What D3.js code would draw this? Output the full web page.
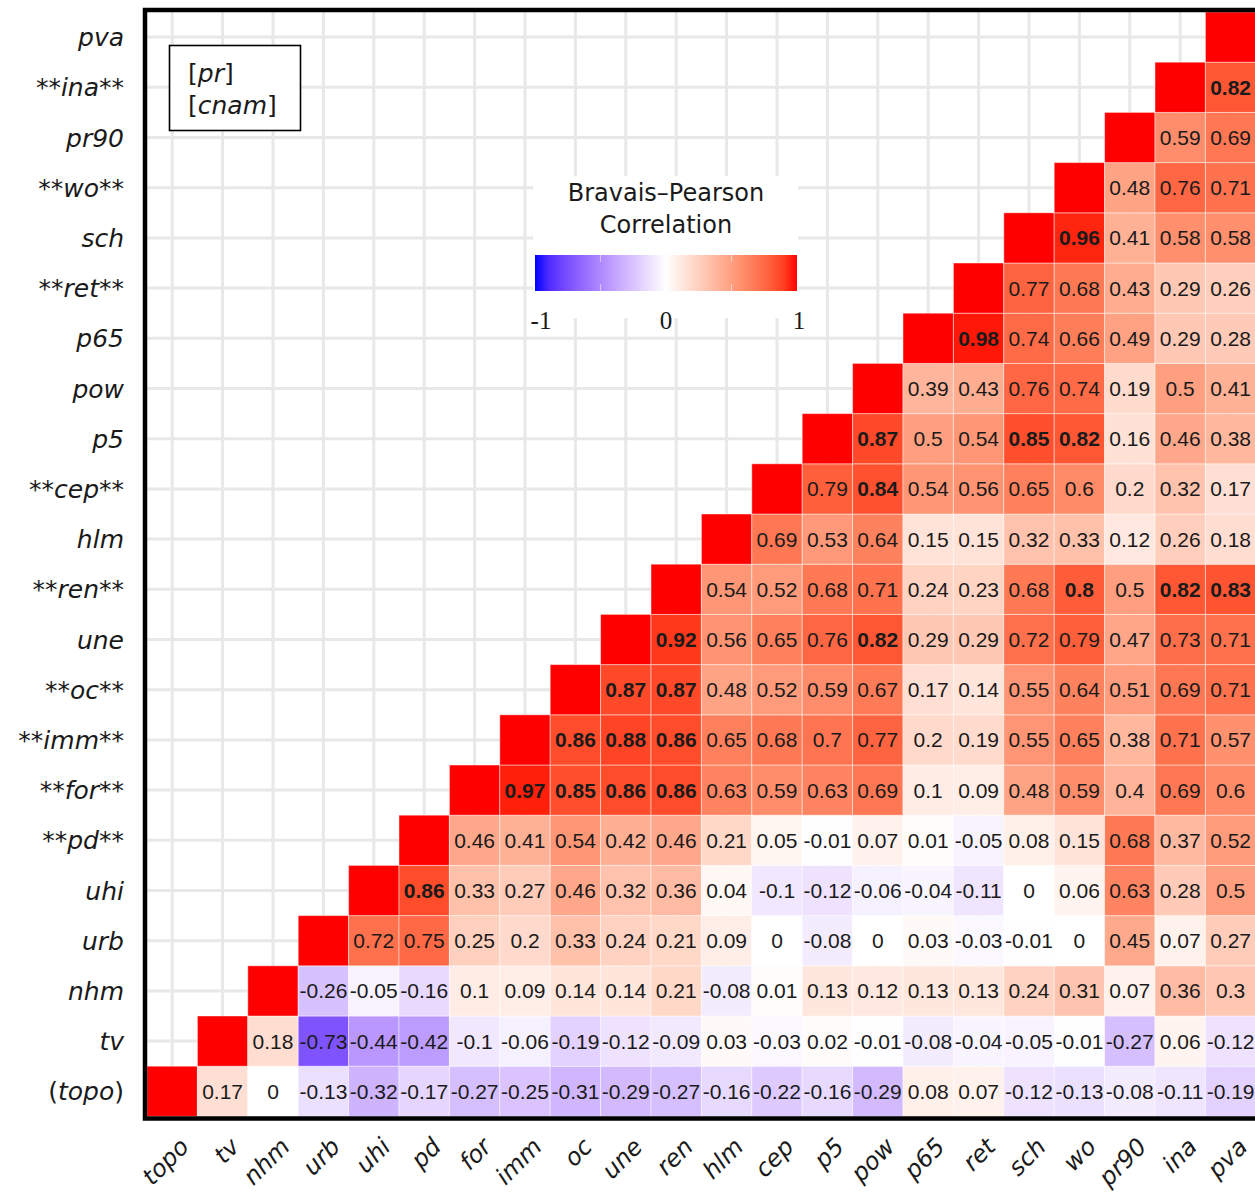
<!DOCTYPE html>
<html>
<head>
<meta charset="utf-8">
<script src="https://cdn.jsdelivr.net/npm/d3@7"></script>
<style>
  html, body { margin: 0; padding: 0; background: #ffffff; }
  svg { display: block; }
</style>
</head>
<body>
<svg id="chart" width="1255" height="1192"></svg>
<script>
// Variable order (bottom-to-top on the y axis, left-to-right on the x axis)
const variables = ["topo","tv","nhm","urb","uhi","pd","for","imm","oc","une","ren",
                   "hlm","cep","p5","pow","p65","ret","sch","wo","pr90","ina","pva"];

// Variables flagged with ** on the y axis, and the one shown in parentheses
const flagged = ["pd","for","imm","oc","ren","cep","ret","wo","ina"];
const bracketed = ["topo"];

// Correlations of each variable with every variable that comes after it
const corrTopo = [0.17, 0, -0.13, -0.32, -0.17, -0.27, -0.25, -0.31, -0.29, -0.27, -0.16, -0.22, -0.16, -0.29, 0.08, 0.07, -0.12, -0.13, -0.08, -0.11, -0.19];
const corrTv   = [0.18, -0.73, -0.44, -0.42, -0.1, -0.06, -0.19, -0.12, -0.09, 0.03, -0.03, 0.02, -0.01, -0.08, -0.04, -0.05, -0.01, -0.27, 0.06, -0.12];
const corrNhm  = [-0.26, -0.05, -0.16, 0.1, 0.09, 0.14, 0.14, 0.21, -0.08, 0.01, 0.13, 0.12, 0.13, 0.13, 0.24, 0.31, 0.07, 0.36, 0.3];
const corrUrb  = [0.72, 0.75, 0.25, 0.2, 0.33, 0.24, 0.21, 0.09, 0, -0.08, 0, 0.03, -0.03, -0.01, 0, 0.45, 0.07, 0.27];
const corrUhi  = [0.86, 0.33, 0.27, 0.46, 0.32, 0.36, 0.04, -0.1, -0.12, -0.06, -0.04, -0.11, 0, 0.06, 0.63, 0.28, 0.5];
const corrPd   = [0.46, 0.41, 0.54, 0.42, 0.46, 0.21, 0.05, -0.01, 0.07, 0.01, -0.05, 0.08, 0.15, 0.68, 0.37, 0.52];
const corrFor  = [0.97, 0.85, 0.86, 0.86, 0.63, 0.59, 0.63, 0.69, 0.1, 0.09, 0.48, 0.59, 0.4, 0.69, 0.6];
const corrImm  = [0.86, 0.88, 0.86, 0.65, 0.68, 0.7, 0.77, 0.2, 0.19, 0.55, 0.65, 0.38, 0.71, 0.57];
const corrOc   = [0.87, 0.87, 0.48, 0.52, 0.59, 0.67, 0.17, 0.14, 0.55, 0.64, 0.51, 0.69, 0.71];
const corrUne  = [0.92, 0.56, 0.65, 0.76, 0.82, 0.29, 0.29, 0.72, 0.79, 0.47, 0.73, 0.71];
const corrRen  = [0.54, 0.52, 0.68, 0.71, 0.24, 0.23, 0.68, 0.8, 0.5, 0.82, 0.83];
const corrHlm  = [0.69, 0.53, 0.64, 0.15, 0.15, 0.32, 0.33, 0.12, 0.26, 0.18];
const corrCep  = [0.79, 0.84, 0.54, 0.56, 0.65, 0.6, 0.2, 0.32, 0.17];
const corrP5   = [0.87, 0.5, 0.54, 0.85, 0.82, 0.16, 0.46, 0.38];
const corrPow  = [0.39, 0.43, 0.76, 0.74, 0.19, 0.5, 0.41];
const corrP65  = [0.98, 0.74, 0.66, 0.49, 0.29, 0.28];
const corrRet  = [0.77, 0.68, 0.43, 0.29, 0.26];
const corrSch  = [0.96, 0.41, 0.58, 0.58];
const corrWo   = [0.48, 0.76, 0.71];
const corrPr90 = [0.59, 0.69];
const corrIna  = [0.82];
const corrPva  = [];

const legendTicks = [-1, 0, 1];

const rows = [corrTopo, corrTv, corrNhm, corrUrb, corrUhi, corrPd, corrFor, corrImm, corrOc,
              corrUne, corrRen, corrHlm, corrCep, corrP5, corrPow, corrP65, corrRet, corrSch,
              corrWo, corrPr90, corrIna, corrPva];

// Long-format cell list: diagonal (r = 1, no label) plus the upper triangle
const cells = [];
variables.forEach((rv, i) => {
  cells.push({ row: rv, col: rv, r: 1, diag: true });
  rows[i].forEach((val, k) => {
    cells.push({ row: rv, col: variables[i + 1 + k], r: val, diag: false });
  });
});

const svg = d3.select("#chart");

const panel = { left: 147, top: 12, right: 1255.8, bottom: 1116.4 };

const x = d3.scaleBand().domain(variables).range([panel.left, panel.right]);
const y = d3.scaleBand().domain(variables).range([panel.bottom, panel.top]);

const color = d3.scaleLinear()
  .domain([-1, 0, 1])
  .range(["#0000ff", "#ffffff", "#ff0000"])
  .interpolate(d3.interpolateLab);

// Panel background and major grid lines through category centres
svg.append("rect")
  .attr("x", panel.left).attr("y", panel.top)
  .attr("width", panel.right - panel.left).attr("height", panel.bottom - panel.top)
  .attr("fill", "#ffffff");

const grid = svg.append("g").attr("stroke", "#e8e8e8").attr("stroke-width", 3);
variables.forEach(v => {
  const cx = x(v) + x.bandwidth() / 2;
  grid.append("line").attr("x1", cx).attr("x2", cx).attr("y1", panel.top).attr("y2", panel.bottom);
  const cy = y(v) + y.bandwidth() / 2;
  grid.append("line").attr("y1", cy).attr("y2", cy).attr("x1", panel.left).attr("x2", panel.right);
});

// Tiles
svg.append("g").selectAll("rect")
  .data(cells)
  .join("rect")
  .attr("x", d => x(d.col))
  .attr("y", d => y(d.row))
  .attr("width", x.bandwidth())
  .attr("height", y.bandwidth())
  .attr("fill", d => color(d.r))
  .attr("stroke", "#ffffff")
  .attr("stroke-opacity", 0.45)
  .attr("stroke-width", 1);

// Coefficient labels
svg.append("g").selectAll("text")
  .data(cells.filter(d => !d.diag))
  .join("text")
  .attr("x", d => x(d.col) + x.bandwidth() / 2)
  .attr("y", d => y(d.row) + y.bandwidth() / 2)
  .attr("text-anchor", "middle")
  .attr("dominant-baseline", "central")
  .attr("font-family", "'Liberation Sans', Arial, sans-serif")
  .attr("font-size", 21)
  .attr("font-weight", d => Math.abs(d.r) >= 0.8 ? "bold" : "normal")
  .attr("fill", "#1a1a1a")
  .text(d => String(d.r));

// Panel frame
svg.append("rect")
  .attr("x", 145).attr("y", 10)
  .attr("width", 1114).attr("height", 1108.5)
  .attr("fill", "none")
  .attr("stroke", "#000000")
  .attr("stroke-width", 4.5);

// Y axis labels
const labelFont = "'DejaVu Sans', Verdana, sans-serif";
const yLab = svg.append("g")
  .attr("font-family", labelFont)
  .attr("font-size", 25)
  .attr("fill", "#1a1a1a");

variables.forEach(v => {
  const t = yLab.append("text")
    .attr("x", 124)
    .attr("y", y(v) + y.bandwidth() / 2)
    .attr("text-anchor", "end")
    .attr("dominant-baseline", "central");
  if (flagged.includes(v)) {
    t.append("tspan").text("**");
    t.append("tspan").attr("font-style", "italic").text(v);
    t.append("tspan").text("**");
  } else if (bracketed.includes(v)) {
    t.append("tspan").text("(");
    t.append("tspan").attr("font-style", "italic").text(v);
    t.append("tspan").text(")");
  } else {
    t.append("tspan").attr("font-style", "italic").text(v);
  }
});

// X axis labels, rotated
svg.append("g")
  .attr("font-family", labelFont)
  .attr("font-size", 24)
  .attr("font-style", "italic")
  .attr("fill", "#1a1a1a")
  .selectAll("text")
  .data(variables)
  .join("text")
  .attr("text-anchor", "end")
  .attr("transform", d => `translate(${x(d) + x.bandwidth() / 2 + 6},${1136}) rotate(-45)`)
  .attr("dy", "0.72em")
  .text(d => d);

// Annotation box
const note = svg.append("g");
note.append("rect")
  .attr("x", 169.5).attr("y", 45.5)
  .attr("width", 131).attr("height", 85)
  .attr("fill", "#ffffff")
  .attr("stroke", "#000000")
  .attr("stroke-width", 1.6);
const noteText = note.append("g")
  .attr("font-family", labelFont)
  .attr("font-size", 25)
  .attr("fill", "#1a1a1a");
[["pr", 82], ["cnam", 114]].forEach(([s, by]) => {
  const t = noteText.append("text").attr("x", 188).attr("y", by);
  t.append("tspan").text("[");
  t.append("tspan").attr("font-style", "italic").text(s);
  t.append("tspan").text("]");
});

// Colour legend
const legend = { x0: 535, x1: 797, y0: 255, h: 36 };
const lg = svg.append("g");
lg.append("rect")
  .attr("x", 533).attr("y", 176)
  .attr("width", 265).attr("height", 142)
  .attr("fill", "#ffffff");

lg.append("text")
  .attr("x", 666).attr("y", 201)
  .attr("text-anchor", "middle")
  .attr("font-family", labelFont).attr("font-size", 24).attr("fill", "#1a1a1a")
  .text("Bravais–Pearson");
lg.append("text")
  .attr("x", 666).attr("y", 233)
  .attr("text-anchor", "middle")
  .attr("font-family", labelFont).attr("font-size", 24).attr("fill", "#1a1a1a")
  .text("Correlation");

const defs = svg.append("defs");
const grad = defs.append("linearGradient").attr("id", "corr-grad")
  .attr("x1", "0%").attr("x2", "100%").attr("y1", "0%").attr("y2", "0%");
d3.range(0, 1.0001, 0.05).forEach(t => {
  grad.append("stop")
    .attr("offset", `${t * 100}%`)
    .attr("stop-color", color(-1 + 2 * t));
});

const lx = d3.scaleLinear().domain([-1, 1]).range([legend.x0, legend.x1]);

lg.append("rect")
  .attr("x", legend.x0).attr("y", legend.y0)
  .attr("width", legend.x1 - legend.x0).attr("height", legend.h)
  .attr("fill", "url(#corr-grad)");

// faint tick marks inside the bar
[-0.5, 0, 0.5].forEach(v => {
  lg.append("line")
    .attr("x1", lx(v)).attr("x2", lx(v))
    .attr("y1", legend.y0).attr("y2", legend.y0 + 7)
    .attr("stroke", "#ffffff").attr("stroke-opacity", 0.5).attr("stroke-width", 1);
  lg.append("line")
    .attr("x1", lx(v)).attr("x2", lx(v))
    .attr("y1", legend.y0 + legend.h - 7).attr("y2", legend.y0 + legend.h)
    .attr("stroke", "#ffffff").attr("stroke-opacity", 0.5).attr("stroke-width", 1);
});

lg.selectAll("text.tick")
  .data(legendTicks)
  .join("text")
  .attr("class", "tick")
  .attr("x", d => lx(d) + (d === -1 ? 6 : d === 1 ? 2 : 0))
  .attr("y", 329)
  .attr("text-anchor", "middle")
  .attr("font-family", "'Liberation Serif', 'Times New Roman', serif")
  .attr("font-size", 25)
  .attr("fill", "#1a1a1a")
  .text(d => String(d));
</script>
</body>
</html>
